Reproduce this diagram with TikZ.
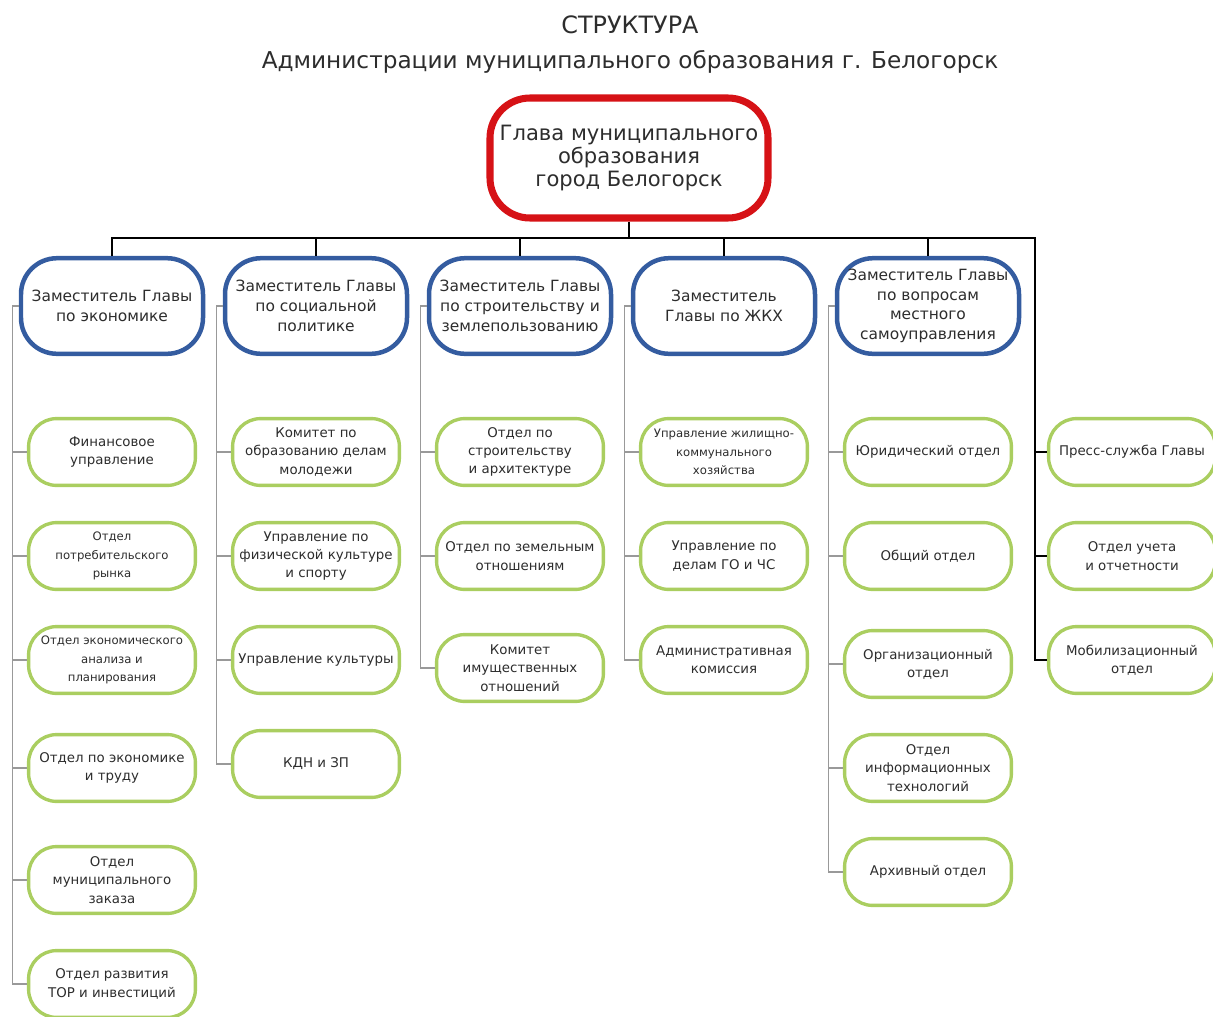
\documentclass[tikz,border=0pt]{standalone}
\usepackage{fontspec}
\setmainfont{DejaVu Sans}
\usetikzlibrary{positioning}

\definecolor{glavared}{RGB}{214,18,22}
\definecolor{zamblue}{RGB}{52,92,160}
\definecolor{otdelgreen}{RGB}{170,206,96}
\definecolor{textgray}{RGB}{45,45,45}

\tikzstyle{titlestyle} = [
    text=textgray,
    font=\fontsize{16.5}{20}\selectfont,
]
\tikzstyle{head} = [
    rectangle,
    rounded corners=1cm,
    minimum width=6.95cm,
    minimum height=3cm,
    align=center,
    draw=glavared,
    line width=5pt,
    fill=white,
    text=textgray,
    font=\fontsize{15}{16.5}\selectfont,
]
\tikzstyle{deputy} = [
    rectangle,
    rounded corners=0.9cm,
    minimum width=4.55cm,
    minimum height=2.39cm,
    align=center,
    draw=zamblue,
    line width=3.2pt,
    fill=white,
    text=textgray,
    font=\fontsize{11}{14}\selectfont,
]
\tikzstyle{dept} = [
    rectangle,
    rounded corners=0.7cm,
    minimum width=4.17cm,
    minimum height=1.67cm,
    inner sep=2pt,
    align=center,
    draw=otdelgreen,
    line width=2.4pt,
    fill=white,
    text=textgray,
    font=\fontsize{9.5}{13}\selectfont,
]
\tikzstyle{deptsmall} = [
    dept,
    font=\fontsize{8.3}{13}\selectfont,
]
\tikzstyle{bus} = [
    line width=1.5pt,
    black,
]
\tikzstyle{branch} = [
    line width=0.8pt,
    gray!80,
]

\begin{document}
\begin{tikzpicture}[node distance=2.6cm]
        \useasboundingbox (0,0) rectangle (30.325,-25.425);
        %%\draw[step=1cm,gray!30,very thin] (0,0) grid (30,-25);
        \node (title) [titlestyle, font=\fontsize{17}{20}\selectfont] at (15.75,-0.625) {СТРУКТУРА};
        \node (subtitle) [titlestyle] at (15.75,-1.55) {Администрации муниципального образования г. Белогорск};
        \node (glava) [head] at (15.725,-3.95) {Глава муниципального\\образования\\город Белогорск};
        % deputies
        \node (zam1) [deputy] at (2.8,-7.65) {Заместитель Главы\\по экономике};
        \node (zam2) [deputy, right of=zam1, xshift=2.5cm] {Заместитель Главы\\по социальной\\политике};
        \node (zam3) [deputy, right of=zam2, xshift=2.5cm] {Заместитель Главы\\по строительству и\\землепользованию};
        \node (zam4) [deputy, right of=zam3, xshift=2.5cm] {Заместитель\\Главы по ЖКХ};
        \node (zam5) [deputy, right of=zam4, xshift=2.5cm] {Заместитель Главы\\по вопросам\\местного\\самоуправления};
        % economy
        \node (fin) [dept, below of=zam1, yshift=-1.05cm] {Финансовое\\управление};
        \node (potr) [deptsmall, below of=fin] {Отдел\\потребительского\\рынка};
        \node (anal) [deptsmall, below of=potr] {Отдел экономического\\анализа и\\планирования};
        \node (trud) [dept, below of=anal, yshift=-0.1cm] {Отдел по экономике\\и труду};
        \node (zakaz) [dept, below of=trud, yshift=-0.2cm] {Отдел\\муниципального\\заказа};
        \node (tor) [dept, below of=zakaz] {Отдел развития\\ТОР и инвестиций};
        % social
        \node (obraz) [dept, below of=zam2, yshift=-1.05cm] {Комитет по\\образованию делам\\молодежи};
        \node (sport) [dept, below of=obraz] {Управление по\\физической культуре\\и спорту};
        \node (kult) [dept, below of=sport] {Управление культуры};
        \node (kdn) [dept, below of=kult] {КДН и ЗП};
        % building
        \node (stroy) [dept, below of=zam3, yshift=-1.05cm] {Отдел по\\строительству\\и архитектуре};
        \node (zem) [dept, below of=stroy] {Отдел по земельным\\отношениям};
        \node (imusch) [dept, below of=zem, yshift=-0.2cm] {Комитет\\имущественных\\отношений};
        % housing
        \node (zhkh) [deptsmall, below of=zam4, yshift=-1.05cm] {Управление жилищно-\\коммунального\\хозяйства};
        \node (gochs) [dept, below of=zhkh] {Управление по\\делам ГО и ЧС};
        \node (adm) [dept, below of=gochs] {Административная\\комиссия};
        % self-government
        \node (jur) [dept, below of=zam5, yshift=-1.05cm] {Юридический отдел};
        \node (obsh) [dept, below of=jur] {Общий отдел};
        \node (org) [dept, below of=obsh, yshift=-0.1cm] {Организационный\\отдел};
        \node (inf) [dept, below of=org] {Отдел\\информационных\\технологий};
        \node (archiv) [dept, below of=inf] {Архивный отдел};
        % directly under the head
        \node (press) [dept, right of=jur, xshift=2.5cm] {Пресс-служба Главы};
        \node (uchet) [dept, below of=press] {Отдел учета\\и отчетности};
        \node (mob) [dept, below of=uchet] {Мобилизационный\\отдел};
        % bus
        \draw [bus] (glava.south) -- ++(0,-0.41) coordinate (hub);
        \coordinate (rbus) at ([xshift=-0.3cm]hub -| press.west);
        \draw [bus] (hub) -| (zam1.north);
        \draw [bus] (hub) -| (zam2.north);
        \draw [bus] (hub) -| (zam3.north);
        \draw [bus] (hub) -| (zam4.north);
        \draw [bus] (hub) -| (zam5.north);
        \draw [bus] (hub) -- (rbus) |- (mob.west);
        \draw [bus] (rbus) |- (press.west);
        \draw [bus] (rbus) |- (uchet.west);
        % branches
        \draw [branch] (zam1.west) -- ++(-0.15,0) |- (fin.west);
        \draw [branch] (zam1.west) -- ++(-0.15,0) |- (potr.west);
        \draw [branch] (zam1.west) -- ++(-0.15,0) |- (anal.west);
        \draw [branch] (zam1.west) -- ++(-0.15,0) |- (trud.west);
        \draw [branch] (zam1.west) -- ++(-0.15,0) |- (zakaz.west);
        \draw [branch] (zam1.west) -- ++(-0.15,0) |- (tor.west);
        \draw [branch] (zam2.west) -- ++(-0.15,0) |- (obraz.west);
        \draw [branch] (zam2.west) -- ++(-0.15,0) |- (sport.west);
        \draw [branch] (zam2.west) -- ++(-0.15,0) |- (kult.west);
        \draw [branch] (zam2.west) -- ++(-0.15,0) |- (kdn.west);
        \draw [branch] (zam3.west) -- ++(-0.15,0) |- (stroy.west);
        \draw [branch] (zam3.west) -- ++(-0.15,0) |- (zem.west);
        \draw [branch] (zam3.west) -- ++(-0.15,0) |- (imusch.west);
        \draw [branch] (zam4.west) -- ++(-0.15,0) |- (zhkh.west);
        \draw [branch] (zam4.west) -- ++(-0.15,0) |- (gochs.west);
        \draw [branch] (zam4.west) -- ++(-0.15,0) |- (adm.west);
        \draw [branch] (zam5.west) -- ++(-0.15,0) |- (jur.west);
        \draw [branch] (zam5.west) -- ++(-0.15,0) |- (obsh.west);
        \draw [branch] (zam5.west) -- ++(-0.15,0) |- (org.west);
        \draw [branch] (zam5.west) -- ++(-0.15,0) |- (inf.west);
        \draw [branch] (zam5.west) -- ++(-0.15,0) |- (archiv.west);
    \end{tikzpicture}
\end{document}
